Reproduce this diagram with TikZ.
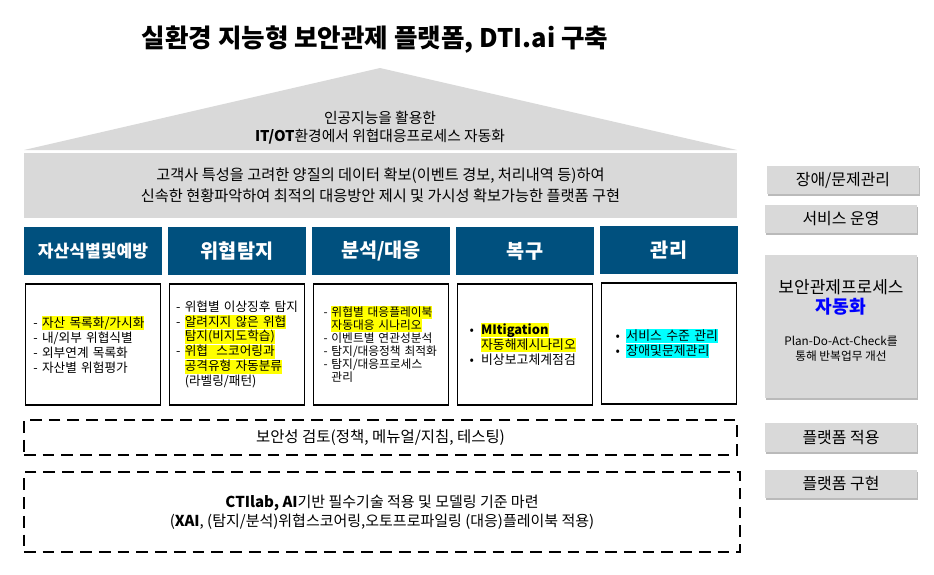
\documentclass[tikz,border=0pt]{standalone}
\usepackage{fontspec}
\setmainfont{Noto Sans CJK KR}
\usepackage{tikz}
\usetikzlibrary{positioning,shadows}
\definecolor{hdrcol}{RGB}{0,80,126}
\definecolor{roofcol}{RGB}{217,217,217}
\definecolor{sidecol}{RGB}{217,217,217}
\definecolor{hlyel}{RGB}{255,255,0}
\definecolor{hlcyan}{RGB}{0,255,255}
\definecolor{autoblue}{RGB}{0,0,255}
\newcommand{\hlbox}[2]{\setbox0\hbox{#2}\rlap{\color{#1}\rule[-0.2em]{\wd0}{1.08em}}\box0}
\newcommand{\hly}[1]{\hlbox{hlyel}{#1}}
\newcommand{\hlc}[1]{\hlbox{hlcyan}{#1}}
\newcommand{\ind}{\hphantom{-~}}

\begin{document}
\begin{tikzpicture}[x=0.03cm, y=-0.03cm,
  hdr/.style={fill=hdrcol, text=white, font=\bfseries\fontsize{16.8}{19}\selectfont,
              minimum width=4.14cm, minimum height=1.44cm, inner sep=0pt},
  cnt/.style={draw, line width=1.2pt, minimum width=4.05cm, minimum height=3.63cm,
              inner xsep=0.24cm, text width=3.57cm, align=left,
              font=\fontsize{10.8}{12.8}\selectfont},
  band/.style={fill=roofcol, minimum width=21.39cm, minimum height=1.95cm, align=center,
               font=\fontsize{13}{18}\selectfont},
  dbox/.style={draw, line width=2pt, dash pattern=on 10pt off 6pt, align=center,
               font=\fontsize{12.8}{16.2}\selectfont},
  sidebox/.style={fill=sidecol, minimum width=4.56cm, minimum height=#1,
                  drop shadow={shadow xshift=1.2pt, shadow yshift=-1.8pt, fill=black!45, opacity=0.6},
                  font=\fontsize{13.6}{16}\selectfont},
]
\useasboundingbox (0,0) rectangle (934,574);

\node[font=\bfseries\fontsize{21.8}{25}\selectfont] (title) at (375,40)
    {실환경 지능형 보안관제 플랫폼, DTI.ai 구축};

% roof
\fill[roofcol] (24,150) -- (380,68) -- (737,150) -- cycle;
\node[align=center, font=\fontsize{12.6}{15.4}\selectfont] (roof) at (380,128)
    {인공지능을 활용한\\\textbf{IT/OT}환경에서 위협대응프로세스 자동화};

\node[band] (band) at (380.5,185.5)
    {고객사 특성을 고려한 양질의 데이터 확보(이벤트 경보, 처리내역 등)하여\\
     신속한 현황파악하여 최적의 대응방안 제시 및 가시성 확보가능한 플랫폼 구현};

% pillars
\node[hdr, font=\bfseries\fontsize{14.6}{17}\selectfont] (h1) at (93,251) {자산식별및예방};
\node[hdr] (h2) at (237,251) {위협탐지};
\node[hdr] (h3) at (381,251) {분석/대응};
\node[hdr] (h4) at (525,251) {복구};
\node[hdr] (h5) at (669,250) {관리};

\node[cnt, below=0.24cm of h1] (c1)
    {- \hly{자산 목록화/가시화}\\
     - 내/외부 위협식별\\
     - 외부연계 목록화\\
     - 자산별 위험평가};
\node[cnt, below=0.24cm of h2, inner xsep=0.2cm, text width=3.65cm] (c2)
    {\mbox{- 위협별 이상징후 탐지}\\
     - \hly{알려지지 않은 위협}\\
     \ind\hly{탐지(비지도학습)}\\
     - \hly{위협~~스코어링과}\\
     \ind\hly{공격유형 자동분류}\\
     \ind(라벨링/패턴)};
\node[cnt, below=0.24cm of h3, inner xsep=0.3cm, text width=3.45cm,
      font=\fontsize{10}{11.1}\selectfont] (c3)
    {- \hly{위협별 대응플레이북}\\
     \ind\hly{자동대응 시나리오}\\
     - 이벤트별 연관성분석\\
     - 탐지/대응정책 최적화\\
     - 탐지/대응프로세스\\
     \ind 관리};
\node[cnt, below=0.24cm of h4, inner xsep=0.36cm, text width=3.33cm,
      font=\fontsize{11}{12.8}\selectfont] (c4)
    {\makebox[0.9em][l]{•}\hly{\textbf{MItigation}}\\
     \hspace*{0.9em}\hly{자동해제시나리오}\\
     \makebox[0.9em][l]{•}비상보고체계점검};
\node[cnt, below=0.24cm of h5, inner xsep=0.42cm, text width=3.21cm,
      font=\fontsize{11}{12.8}\selectfont] (c5)
    {\makebox[0.85em][l]{•}\hlc{서비스 수준 관리}\\
     \makebox[0.85em][l]{•}\hlc{장애및문제관리}};

% foundation
\node[dbox, minimum width=21.39cm, minimum height=1.05cm, font=\fontsize{13.2}{16}\selectfont]
    (review) at (380.5,437.5) {보안성 검토(정책, 메뉴얼/지침, 테스팅)};
\node[dbox, minimum width=21.48cm, minimum height=2.4cm] (build) at (382,512)
    {\textbf{CTIlab, AI}기반 필수기술 적용 및 모델링 기준 마련\\
     (\textbf{XAI}, (탐지/분석)위협스코어링,오토프로파일링 (대응)플레이북 적용)};

% side labels
\node[sidebox=0.84cm] (s1) at (843,180) {장애/문제관리};
\node[sidebox=0.84cm] (s2) at (841,219) {서비스 운영};
\node[sidebox=4.29cm] (s3) at (841,326.5) {};
\node[align=center, font=\fontsize{14.5}{17}\selectfont] (s3a) at (841,297)
    {보안관제프로세스\\{\color{autoblue}\bfseries\fontsize{15.5}{17}\selectfont 자동화}};
\node[align=center, font=\fontsize{10}{12.8}\selectfont] (s3b) at (841,348.5)
    {Plan-Do-Act-Check를\\통해 반복업무 개선};
\node[sidebox=0.87cm] (s4) at (841,437.5) {플랫폼 적용};
\node[sidebox=0.84cm] (s5) at (841,484) {플랫폼 구현};
\end{tikzpicture}
\end{document}
